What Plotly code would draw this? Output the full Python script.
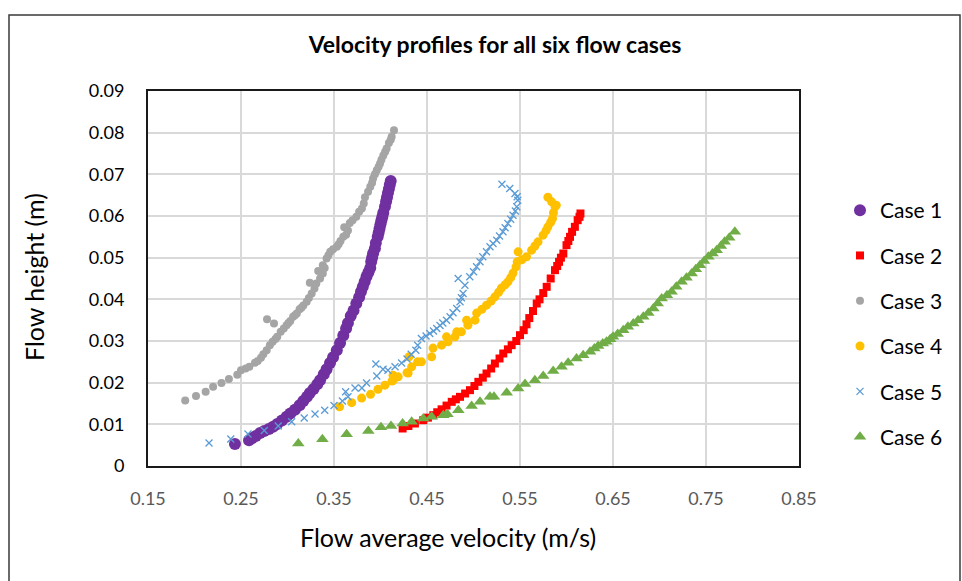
import plotly.graph_objects as go

# ---------------- data ----------------
case1_v = [0.2435, 0.2586, 0.262, 0.266, 0.2705, 0.275, 0.28, 0.2845, 0.289, 0.294, 0.299, 0.303, 0.308,
           0.313, 0.317, 0.321, 0.324, 0.328, 0.332, 0.335, 0.339, 0.342, 0.3457, 0.349, 0.353, 0.3565,
           0.36, 0.363, 0.365, 0.368, 0.371, 0.374, 0.377, 0.379, 0.381, 0.383, 0.385, 0.387, 0.389,
           0.390, 0.391, 0.392, 0.394, 0.395, 0.397, 0.398, 0.399, 0.400, 0.401, 0.402, 0.403, 0.4048,
           0.406, 0.407, 0.408, 0.409, 0.410, 0.411]
case1_h = [0.0053, 0.0062, 0.0067, 0.0072, 0.0079, 0.0084, 0.0089, 0.0094, 0.0101, 0.0109, 0.0118, 0.0126,
           0.0135, 0.0146, 0.0156, 0.0166, 0.0175, 0.0185, 0.0196, 0.0206, 0.0220, 0.0232, 0.0247, 0.0261,
           0.0278, 0.0295, 0.0313, 0.0330, 0.0343, 0.0360, 0.0373, 0.0390, 0.0405, 0.0418, 0.0430, 0.0442,
           0.0455, 0.0465, 0.0475, 0.0490, 0.0500, 0.0510, 0.0522, 0.0535, 0.0550, 0.0560, 0.0570, 0.0580,
           0.0590, 0.0598, 0.0608, 0.0622, 0.0635, 0.0645, 0.0655, 0.0665, 0.0675, 0.0684]

case2_v = [0.4238, 0.430, 0.437, 0.446, 0.451, 0.4568, 0.461, 0.4657, 0.471, 0.4766, 0.481, 0.4855, 0.491,
           0.4962, 0.501, 0.5052, 0.510, 0.514, 0.519, 0.523, 0.528, 0.532, 0.537, 0.541, 0.546, 0.550,
           0.554, 0.557, 0.560, 0.564, 0.568, 0.571, 0.575, 0.5787, 0.583, 0.5876, 0.590, 0.592, 0.594,
           0.5966, 0.600, 0.602, 0.6038, 0.606, 0.609, 0.612, 0.614, 0.615]
case2_h = [0.0090, 0.0096, 0.0102, 0.0110, 0.0116, 0.0122, 0.0129, 0.0136, 0.0145, 0.0154, 0.0160, 0.0166,
           0.0174, 0.0182, 0.0192, 0.0202, 0.0212, 0.0222, 0.0234, 0.0246, 0.0258, 0.0270, 0.0280, 0.0290,
           0.0300, 0.0314, 0.0326, 0.0340, 0.0355, 0.0372, 0.0390, 0.0400, 0.0415, 0.0430, 0.0450, 0.0470,
           0.0480, 0.0490, 0.0500, 0.0510, 0.0530, 0.0540, 0.0550, 0.0562, 0.0574, 0.0590, 0.0598, 0.0606]

case3_v = [0.190, 0.2016, 0.212, 0.220, 0.229, 0.237, 0.246, 0.250, 0.255, 0.259, 0.265, 0.268, 0.2715,
           0.274, 0.2776, 0.281, 0.284, 0.287, 0.289, 0.2927, 0.296, 0.299, 0.301, 0.303, 0.306, 0.308,
           0.31, 0.313, 0.315, 0.317, 0.3206, 0.323, 0.326, 0.329, 0.331, 0.335, 0.338, 0.340, 0.338,
           0.342, 0.344, 0.346, 0.349, 0.353, 0.355, 0.357, 0.360, 0.363, 0.365, 0.367, 0.370, 0.374,
           0.377, 0.380, 0.382, 0.3833, 0.3866, 0.389, 0.391, 0.392, 0.394, 0.396, 0.398, 0.3995, 0.401,
           0.403, 0.405, 0.4066, 0.409, 0.411, 0.412, 0.4145,
           0.278, 0.2855, 0.324, 0.333, 0.361]
case3_h = [0.0157, 0.0168, 0.0178, 0.0190, 0.0199, 0.0209, 0.0219, 0.0230, 0.0234, 0.0238, 0.0248, 0.0252,
           0.0260, 0.0268, 0.0278, 0.0290, 0.0298, 0.0305, 0.0310, 0.0322, 0.0330, 0.0338, 0.0343, 0.0348,
           0.0358, 0.0362, 0.0366, 0.0376, 0.0380, 0.0385, 0.0394, 0.0403, 0.0414, 0.0426, 0.0438, 0.0450,
           0.0462, 0.0475, 0.0482, 0.0498, 0.0506, 0.0514, 0.0520, 0.0526, 0.0532, 0.0540, 0.0550, 0.0555,
           0.0565, 0.0583, 0.0590, 0.0598, 0.0610, 0.0618, 0.0630, 0.0645, 0.0658, 0.0670, 0.0680, 0.0690,
           0.0700, 0.0710, 0.0718, 0.0726, 0.0735, 0.0745, 0.0754, 0.0762, 0.0775, 0.0783, 0.0790, 0.0806,
           0.0352, 0.0342, 0.0440, 0.0468, 0.0573]

case4_v = [0.356, 0.369, 0.3797, 0.3893, 0.3973, 0.4048, 0.4124, 0.4137, 0.4135, 0.419, 0.4285, 0.4297,
           0.4335, 0.4306, 0.440, 0.444, 0.455, 0.4565, 0.4657, 0.4726, 0.471, 0.480, 0.482, 0.487, 0.494,
           0.4926, 0.5016, 0.5034, 0.509, 0.514, 0.519, 0.523, 0.527, 0.530, 0.534, 0.537, 0.540, 0.5425,
           0.5457, 0.547, 0.548, 0.552, 0.557, 0.5625, 0.566, 0.5694, 0.5748, 0.578, 0.580, 0.583, 0.585,
           0.586, 0.5877, 0.589, 0.584, 0.580]
case4_h = [0.0142, 0.0152, 0.0163, 0.0172, 0.0184, 0.0194, 0.0204, 0.0206, 0.0218, 0.0214, 0.0224, 0.0223,
           0.0238, 0.0262, 0.0250, 0.0250, 0.0262, 0.0283, 0.0290, 0.0298, 0.0310, 0.0310, 0.0322, 0.0322,
           0.0338, 0.0350, 0.0350, 0.0367, 0.0376, 0.0386, 0.0396, 0.0406, 0.0417, 0.0427, 0.0435, 0.0442,
           0.0452, 0.0463, 0.0478, 0.0490, 0.0514, 0.0495, 0.0502, 0.0518, 0.0528, 0.0538, 0.0554, 0.0565,
           0.0574, 0.0585, 0.0594, 0.0608, 0.0622, 0.0626, 0.0634, 0.0645]

case5_v = [0.2156, 0.239, 0.2575, 0.275, 0.29, 0.3045, 0.318, 0.3296, 0.340, 0.350, 0.359, 0.365, 0.3625,
           0.3726, 0.38, 0.385, 0.396, 0.4027, 0.408, 0.4156, 0.4227, 0.4285, 0.433, 0.438, 0.44, 0.444,
           0.449, 0.453, 0.457, 0.4605, 0.464, 0.467, 0.471, 0.4748, 0.478, 0.482, 0.4855, 0.487, 0.4888,
           0.4908, 0.4835, 0.496, 0.500, 0.5033, 0.507, 0.510, 0.514, 0.5177, 0.521, 0.525, 0.528, 0.5317,
           0.534, 0.537, 0.540, 0.5425, 0.545, 0.5465, 0.5476, 0.547, 0.5446, 0.539, 0.5306, 0.395]
case5_h = [0.0055, 0.0065, 0.0077, 0.0085, 0.0096, 0.0106, 0.0115, 0.0125, 0.0134, 0.0145, 0.0156, 0.0166,
           0.0178, 0.0187, 0.0187, 0.0199, 0.0216, 0.0232, 0.0230, 0.0238, 0.0247, 0.0257, 0.0268, 0.0278,
           0.0290, 0.0306, 0.0312, 0.0318, 0.0324, 0.0330, 0.0337, 0.0343, 0.0350, 0.0358, 0.0368, 0.0378,
           0.0394, 0.0404, 0.0414, 0.0434, 0.0450, 0.0454, 0.0466, 0.0478, 0.0490, 0.0502, 0.0514, 0.0526,
           0.0534, 0.0542, 0.0552, 0.0562, 0.0572, 0.0582, 0.0592, 0.0602, 0.0612, 0.0622, 0.0638, 0.0646,
           0.0654, 0.0666, 0.0676, 0.0245]

case6_v = [0.3116, 0.3375, 0.3636, 0.3869, 0.4005, 0.4113, 0.4238, 0.4335, 0.446, 0.455, 0.4675, 0.472,
           0.4837, 0.498, 0.507, 0.5177, 0.522, 0.5357, 0.548, 0.5554, 0.566, 0.575, 0.5857, 0.5947,
           0.6018, 0.6108, 0.618, 0.6253, 0.630, 0.634, 0.639, 0.643, 0.647, 0.650, 0.655, 0.661, 0.666,
           0.6718, 0.677, 0.6826, 0.688, 0.6934, 0.698, 0.7023, 0.708, 0.713, 0.718, 0.7238, 0.729,
           0.7346, 0.739, 0.7435, 0.748, 0.7525, 0.757, 0.7615, 0.766, 0.770, 0.775, 0.781]
case6_h = [0.0054, 0.0064, 0.0076, 0.0084, 0.0093, 0.0096, 0.0102, 0.0106, 0.0114, 0.0118, 0.0122, 0.0124,
           0.0134, 0.0144, 0.0154, 0.0166, 0.0166, 0.0176, 0.0186, 0.0197, 0.0206, 0.0216, 0.0228, 0.0238,
           0.0248, 0.0258, 0.0266, 0.0274, 0.0282, 0.0288, 0.0294, 0.0298, 0.0304, 0.0310, 0.0317, 0.0326,
           0.0334, 0.0342, 0.0350, 0.0358, 0.0367, 0.0378, 0.0390, 0.0402, 0.0410, 0.0418, 0.0430, 0.0442,
           0.0452, 0.0462, 0.0472, 0.0482, 0.0492, 0.0502, 0.0510, 0.0518, 0.0528, 0.0538, 0.0548, 0.0562]

x_ticks = [0.15, 0.25, 0.35, 0.45, 0.55, 0.65, 0.75, 0.85]
y_ticks = [0, 0.01, 0.02, 0.03, 0.04, 0.05, 0.06, 0.07, 0.08, 0.09]
x_tick_text = ["0.15", "0.25", "0.35", "0.45", "0.55", "0.65", "0.75", "0.85"]
y_tick_text = ["0", "0.01", "0.02", "0.03", "0.04", "0.05", "0.06", "0.07", "0.08", "0.09"]

# ---------------- figure ----------------
FONT = "Lato"
series = [
    ("Case 1", case1_v, case1_h, dict(symbol="circle", size=12, color="#7030A0")),
    ("Case 2", case2_v, case2_h, dict(symbol="square", size=8, color="#FF0000")),
    ("Case 3", case3_v, case3_h, dict(symbol="circle", size=8, color="#A5A5A5")),
    ("Case 4", case4_v, case4_h, dict(symbol="circle", size=9, color="#FFC000")),
    ("Case 5", case5_v, case5_h, dict(symbol="x-thin", size=7, color="#5B9BD5",
                                      line=dict(color="#5B9BD5", width=1.3))),
    ("Case 6", case6_v, case6_h, dict(symbol="triangle-up", size=11, color="#70AD47")),
]

fig = go.Figure()
for name, xs, ys, mk in series:
    fig.add_trace(go.Scatter(x=xs, y=ys, mode="markers", name=name, marker=mk, legendgroup=name))

L, R, T, B = 148, 163, 91, 115
W, H = 962, 581
pw, ph = W - L - R, H - T - B

fig.update_layout(
    width=W, height=H,
    margin=dict(l=L, r=R, t=T, b=B),
    paper_bgcolor="white", plot_bgcolor="white",
    font=dict(family=FONT, color="#262626"),
    title=dict(text="<b>Velocity profiles for all six flow cases</b>", x=495 / W, xref="container",
               y=1 - 45 / H, yref="container", xanchor="center", yanchor="middle",
               font=dict(size=23, family=FONT, color="#000000")),
    showlegend=True,
    legend=dict(x=(840 - L) / pw, y=(H - 190 - B) / ph, xanchor="left", yanchor="top",
                font=dict(size=21, family=FONT, color="#000000"), tracegroupgap=15,
                bgcolor="rgba(0,0,0,0)", itemwidth=30),
    xaxis=dict(range=[0.15, 0.85], tickvals=x_ticks, ticktext=x_tick_text,
               showgrid=True, gridcolor="#D9D9D9", gridwidth=2,
               showline=True, linecolor="#1a1a1a", linewidth=2, mirror=True,
               ticks="", ticklabelstandoff=15, zeroline=False,
               tickfont=dict(size=18, family=FONT, color="#595959")),
    yaxis=dict(range=[0, 0.09], tickvals=y_ticks, ticktext=y_tick_text,
               showgrid=True, gridcolor="#D9D9D9", gridwidth=2,
               showline=True, linecolor="#1a1a1a", linewidth=2, mirror=True,
               ticks="", ticklabelstandoff=18, zeroline=False,
               tickfont=dict(size=18, family=FONT, color="#000000")),
    annotations=[
        dict(text="Flow average velocity (m/s)", x=(448 - L) / pw, y=-(537 - (T + ph)) / ph,
             xref="paper", yref="paper", showarrow=False, xanchor="center", yanchor="middle",
             font=dict(size=25, family=FONT, color="#000000")),
        dict(text="Flow height (m)", x=-(L - 34) / pw, y=(H - B - 277) / ph,
             xref="paper", yref="paper", showarrow=False, textangle=-90,
             xanchor="center", yanchor="middle",
             font=dict(size=25, family=FONT, color="#000000")),
    ],
    shapes=[dict(type="rect", xref="paper", yref="paper",
                 x0=(9 - L) / pw, x1=(960 - L) / pw,
                 y0=(T + ph - 590) / ph, y1=(T + ph - 15) / ph,
                 line=dict(color="#3a3a3a", width=1.5), fillcolor="rgba(0,0,0,0)", layer="below")],
)

fig.write_html("out.html")
